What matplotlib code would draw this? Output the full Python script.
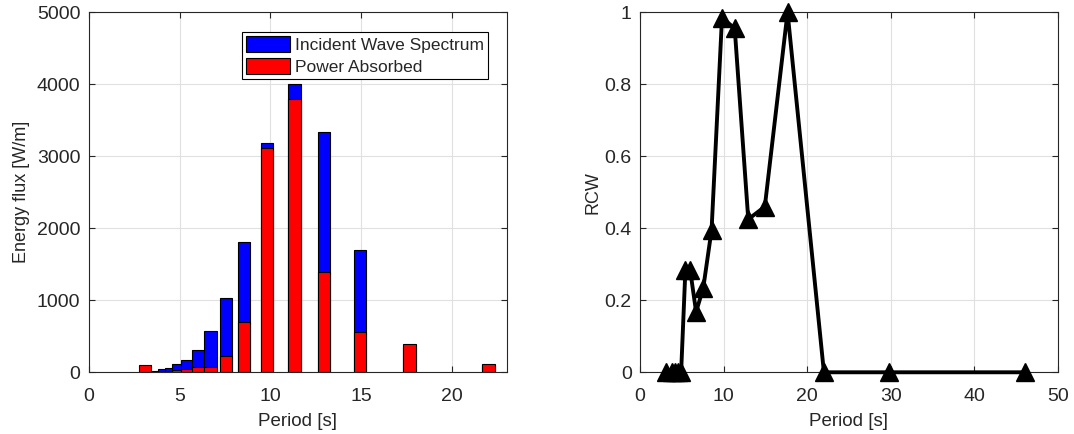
import numpy as np
import matplotlib.pyplot as plt

plt.rcParams['font.family'] = ['Liberation Sans', 'DejaVu Sans']

# wave periods [s] shared by both panels
period = [3.09, 3.80, 4.17, 4.53, 4.92, 5.43, 6.00, 6.71, 7.56, 8.56,
          9.81, 11.33, 12.95, 14.93, 17.65, 22.00, 29.8, 46.1]

# incident wave spectrum and absorbed power [W/m]
incident = [5, 18, 42, 64, 115, 175, 310, 574, 1036, 1814,
            3185, 4005, 3333, 1694, 350, 100, 10, 0]
absorbed = [97, 0, 5, 10, 25, 42, 78, 78, 226, 703,
            3115, 3792, 1397, 564, 389, 120, 0, 0]

# relative capture width
rcw = [0, 0, 0, 0, 0, 0.284, 0.284, 0.168, 0.233, 0.395,
       0.985, 0.955, 0.425, 0.46, 1.0, 0, 0, 0]

txt = '#262626'
axc = '#262626'
gridc = '#e0e0e0'

fig = plt.figure(figsize=(10.74, 4.34), dpi=100)
ax1 = fig.add_axes([0.0826, 0.1422, 0.3892, 0.8295])
ax2 = fig.add_axes([0.5959, 0.1422, 0.3892, 0.8295])

for ax in (ax1, ax2):
    ax.set_axisbelow(True)
    ax.grid(True, color=gridc, linewidth=0.8)
    ax.tick_params(direction='in', top=True, right=True, labelsize=14,
                   colors=axc, labelcolor=txt, length=4, width=0.8)
    ax.tick_params(axis='x', pad=11)
    ax.tick_params(axis='y', pad=6)
    for s in ax.spines.values():
        s.set_color(axc)
        s.set_linewidth(0.8)

# left: spectrum with absorbed power drawn on top
w = 0.68
ax1.bar(period, incident, width=w, color='#0000ff', edgecolor='black',
        linewidth=0.8, label='Incident Wave Spectrum')
ax1.bar(period, absorbed, width=w, color='#ff0000', edgecolor='black',
        linewidth=0.8, label='Power Absorbed')
ax1.set_xlim(0, 23)
ax1.set_ylim(0, 5000)
ax1.set_xticks([0, 5, 10, 15, 20])
ax1.set_yticks([0, 1000, 2000, 3000, 4000, 5000])
ax1.set_xlabel('Period [s]', fontsize=13.5, color=txt, labelpad=6)
ax1.set_ylabel('Energy flux [W/m]', fontsize=13, color=txt, labelpad=5)
leg = ax1.legend(loc='upper right', bbox_to_anchor=(0.956, 0.946),
                 borderaxespad=0, fontsize=12.5, fancybox=False,
                 framealpha=1, edgecolor='black', handlelength=2.5,
                 handleheight=1.0, labelspacing=0.3, borderpad=0.25,
                 handletextpad=0.3)
leg.get_frame().set_linewidth(0.8)
for t in leg.get_texts():
    t.set_color(txt)

# right: RCW against period
ax2.plot(period, rcw, color='black', linewidth=2.8, marker='^',
         markersize=13, markerfacecolor='black', markeredgecolor='black',
         clip_on=False, zorder=3)
ax2.set_xlim(0, 50)
ax2.set_ylim(0, 1)
ax2.set_xticks([0, 10, 20, 30, 40, 50])
ax2.set_yticks([0, 0.2, 0.4, 0.6, 0.8, 1])
ax2.set_yticklabels(['0', '0.2', '0.4', '0.6', '0.8', '1'])
ax2.set_xlabel('Period [s]', fontsize=13.5, color=txt, labelpad=6)
ax2.set_ylabel('RCW', fontsize=13, color=txt, labelpad=2)

fig.savefig('out.png', dpi=100)
